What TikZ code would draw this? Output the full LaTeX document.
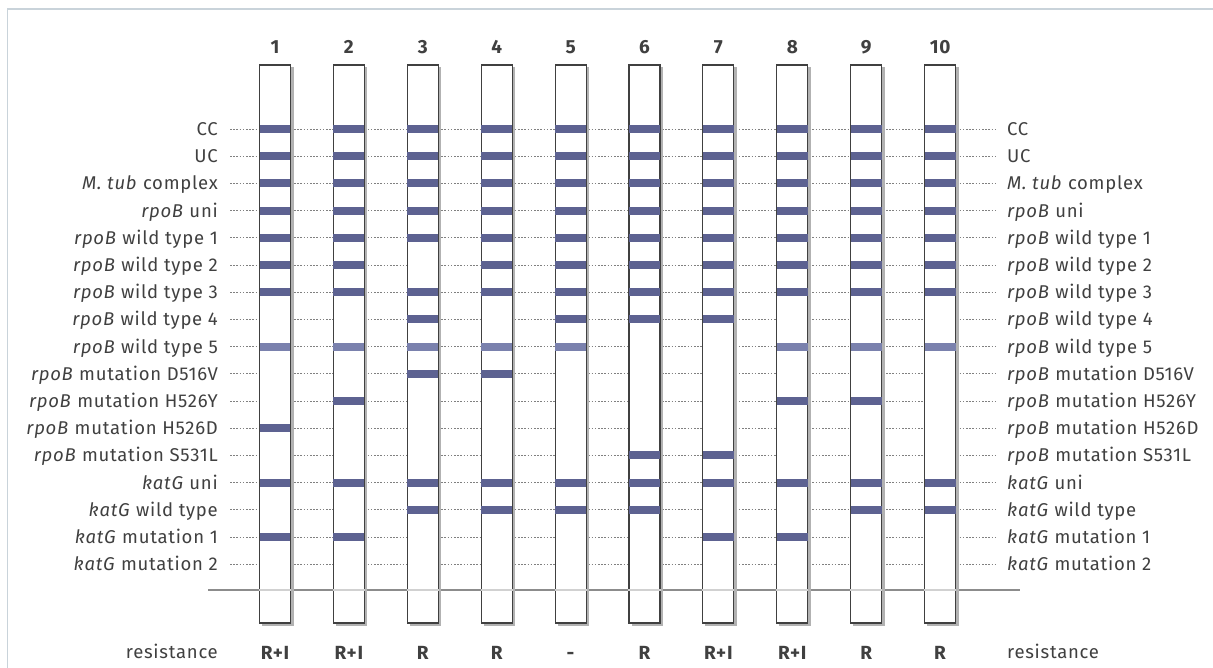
\documentclass[tikz,border=0pt]{standalone}
\usepackage{fontspec}
\setmainfont{Fira Sans}[LetterSpace=4]
\usetikzlibrary{calc}
\definecolor{band}{HTML}{5D6291}
\definecolor{bandlt}{HTML}{7A81AD}
\definecolor{txt}{HTML}{404040}
\definecolor{framec}{HTML}{C9D3DA}
\begin{document}
\begin{tikzpicture}[x=1pt,y=-1pt,
  lbl/.style={font=\fontsize{18.5}{18.5}\selectfont, text=txt, inner sep=0pt},
  num/.style={font=\fontsize{19}{19}\selectfont\bfseries, text=txt, inner sep=0pt},
  stripbox/.style={draw=black!75, line width=1.1pt, fill=white, minimum width=31pt, minimum height=558pt, inner sep=0pt},
  stripshadow/.style={fill=black!30},
  dotline/.style={dash pattern=on 1.6pt off 1.6pt, line width=0.8pt, draw=black!50},
  baseline/.style={line width=2pt, draw=black!45},
  bandbox/.style={fill=band},
  bandlight/.style={fill=bandlt},
]
\useasboundingbox (0,0) rectangle (1213,668);
\fill[white] (0,0) rectangle (1213,668);
\draw[framec, line width=1.2pt] (7.5,668) -- (7.5,9) -- (1213,9);

% rows
\foreach \k/\t in {1/CC, 2/UC, 3/\textit{M. tub} complex, 4/\textit{rpoB} uni,
  5/\textit{rpoB} wild type 1, 6/\textit{rpoB} wild type 2, 7/\textit{rpoB} wild type 3,
  8/\textit{rpoB} wild type 4, 9/\textit{rpoB} wild type 5, 10/\textit{rpoB} mutation D516V,
  11/\textit{rpoB} mutation H526Y, 12/\textit{rpoB} mutation H526D, 13/\textit{rpoB} mutation S531L,
  14/\textit{katG} uni, 15/\textit{katG} wild type, 16/\textit{katG} mutation 1, 17/\textit{katG} mutation 2}{
  \pgfmathsetmacro\yy{129+27.2*(\k-1)}
  \node[lbl, anchor=base east] (L\k) at (218,\yy+6.5) {\t};
  \node[lbl, anchor=base west] (R\k) at (1007,\yy+6.5) {\t};
  \coordinate (a\k) at (230,\yy);
  \coordinate (b\k) at (997,\yy);
  \draw[dotline] (a\k) -- (b\k);
}

% separator line
\coordinate (g1) at (208,590);
\coordinate (g2) at (1020,590);
\draw[baseline] (g1) -- (g2);

% strips
\foreach \i/\r in {1/R+I,2/R+I,3/R,4/R,5/-,6/R,7/R+I,8/R+I,9/R,10/R}{
  \pgfmathsetmacro\xx{275+73.9*(\i-1)}
  \fill[stripshadow] (\xx-13,67) rectangle (\xx+18.5,626);
  \node[stripbox] (s\i) at (\xx,344) {};
  \fill[black!18] ([yshift=-1pt]s\i.west |- g1) rectangle ([yshift=1pt]s\i.east |- g1);
  \node[num] (n\i) at (\xx,47) {\i};
  \node[num, anchor=base] (res\i) at (\xx,659) {\r};
}

% bands
\foreach \i/\bl in {1/{1,2,3,4,5,6,7,9,12,14,16}, 2/{1,2,3,4,5,6,7,9,11,14,16},
  3/{1,2,3,4,5,7,8,9,10,14,15}, 4/{1,2,3,4,5,6,7,9,10,14,15},
  5/{1,2,3,4,5,6,7,8,9,14,15}, 6/{1,2,3,4,5,6,7,8,13,14,15},
  7/{1,2,3,4,5,6,7,8,13,14,16}, 8/{1,2,3,4,5,6,7,9,11,14,16},
  9/{1,2,3,4,5,6,7,9,11,14,15}, 10/{1,2,3,4,5,6,7,9,14,15}}{
  \foreach \k in \bl {
    \ifnum\k=9
      \fill[bandlight] ([xshift=0.6pt,yshift=-4pt]s\i.west |- a\k) rectangle ([xshift=-0.6pt,yshift=4pt]s\i.east |- a\k);
    \else
      \fill[bandbox] ([xshift=0.6pt,yshift=-4pt]s\i.west |- a\k) rectangle ([xshift=-0.6pt,yshift=4pt]s\i.east |- a\k);
    \fi
  }
}

\node[lbl, anchor=base east] (resL) at (218,658) {resistance};
\node[lbl, anchor=base west] (resR) at (1007,658) {resistance};
\end{tikzpicture}
\end{document}
